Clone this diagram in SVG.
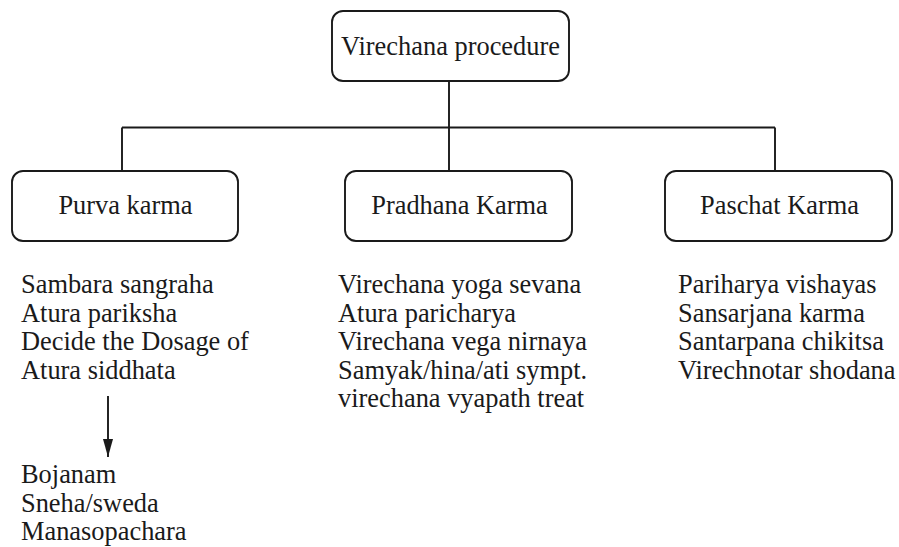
<svg xmlns="http://www.w3.org/2000/svg" width="899" height="547" viewBox="0 0 899 547">
  <style>
    .box { fill: #ffffff; stroke: #1a1a1a; stroke-width: 1.9; }
    .wire { fill: none; stroke: #1a1a1a; stroke-width: 1.9; }
    text { font-family: "Liberation Serif", "Times New Roman", serif; font-size: 26.4px; fill: #1a1a1a; }
    .c { text-anchor: middle; }
  </style>
  <defs>
    <marker id="arrow" viewBox="0 0 18 10" refX="18" refY="5" markerWidth="18" markerHeight="10" markerUnits="userSpaceOnUse" orient="auto">
      <path d="M0,0 L18,5 L0,10 Z" fill="#1a1a1a"/>
    </marker>
  </defs>
  <rect width="899" height="547" fill="#ffffff"/>

  <!-- connectors -->
  <g id="connectors">
    <path class="wire" d="M449,81 V127.5"/>
    <path class="wire" d="M122,127.5 H775"/>
    <path class="wire" d="M122,127.5 V171"/>
    <path class="wire" d="M449,127.5 V171"/>
    <path class="wire" d="M775,127.5 V171"/>
    <path class="wire" d="M108,396 V457" marker-end="url(#arrow)"/>
  </g>

  <!-- root -->
  <g id="virechana-procedure">
    <rect class="box" x="332" y="11" width="237" height="70" rx="11"/>
    <text class="c" x="450.5" y="55">Virechana procedure</text>
  </g>

  <!-- phase nodes -->
  <g id="purva-karma">
    <rect class="box" x="12" y="171" width="226" height="70" rx="11"/>
    <text class="c" x="125.5" y="214">Purva karma</text>
  </g>
  <g id="pradhana-karma">
    <rect class="box" x="345" y="171" width="227" height="70" rx="11"/>
    <text class="c" x="459.5" y="214">Pradhana Karma</text>
  </g>
  <g id="paschat-karma">
    <rect class="box" x="665" y="171" width="227" height="70" rx="11"/>
    <text class="c" x="779.5" y="214">Paschat Karma</text>
  </g>

  <!-- step lists -->
  <g id="purva-steps">
    <text x="21" y="293">Sambara sangraha</text>
    <text x="21" y="322">Atura pariksha</text>
    <text x="21" y="350">Decide the Dosage of</text>
    <text x="21" y="379">Atura siddhata</text>
  </g>
  <g id="purva-substeps">
    <text x="21" y="483">Bojanam</text>
    <text x="21" y="512">Sneha/sweda</text>
    <text x="21" y="540">Manasopachara</text>
  </g>
  <g id="pradhana-steps">
    <text x="338" y="293">Virechana yoga sevana</text>
    <text x="338" y="322">Atura paricharya</text>
    <text x="338" y="350">Virechana vega nirnaya</text>
    <text x="338" y="379">Samyak/hina/ati sympt.</text>
    <text x="338" y="407">virechana vyapath treat</text>
  </g>
  <g id="paschat-steps">
    <text x="678" y="293">Pariharya vishayas</text>
    <text x="678" y="322">Sansarjana karma</text>
    <text x="678" y="350">Santarpana chikitsa</text>
    <text x="678" y="379">Virechnotar shodana</text>
  </g>
</svg>
